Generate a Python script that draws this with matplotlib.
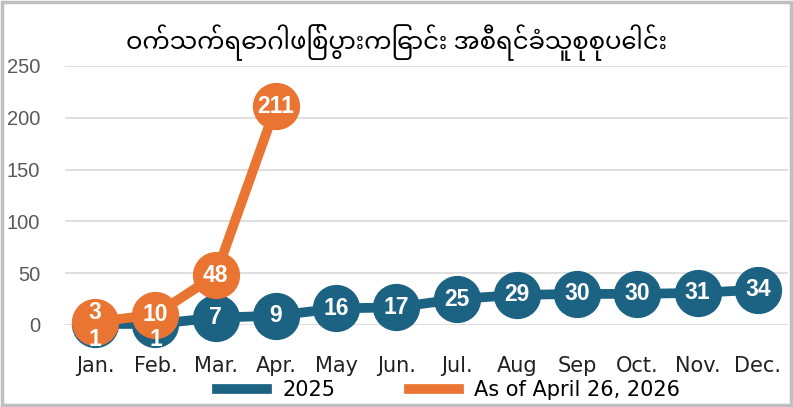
import matplotlib
matplotlib.use("Agg")
import matplotlib.pyplot as plt
from matplotlib.patches import Rectangle

months = ["Jan.", "Feb.", "Mar.", "Apr.", "May", "Jun.", "Jul.", "Aug",
          "Sep", "Oct.", "Nov.", "Dec."]
cases_2025 = [1, 1, 7, 9, 16, 17, 25, 29, 30, 30, 31, 34]
cases_2026 = [3, 10, 48, 211]
title = "ဝက်သက်ရောဂါဖြစ်ပွားကြောင်း အစီရင်ခံသူစုစုပေါင်း"

BLUE = "#1b6283"
ORANGE = "#ea7431"

fig = plt.figure(figsize=(7.93, 4.07), dpi=100)
ax = fig.add_axes([0.082, 0.2015, 0.9117, 0.6365])

x25 = list(range(len(cases_2025)))
x26 = list(range(len(cases_2026)))

ax.plot(x25, cases_2025, "-o", color=BLUE, lw=7, markersize=33,
        clip_on=False, zorder=3, label="2025")
ax.plot(x26, cases_2026, "-o", color=ORANGE, lw=7, markersize=33,
        clip_on=False, zorder=4, label="As of April 26, 2026")

# label nudges (points) where the two series overlap
off25 = [-11, -11] + [0] * 10
off26 = [7, 0, 0, 0]
lbl = dict(ha="center", va="center", color="white", fontsize=16.5,
           fontweight="bold", family="Liberation Sans", zorder=6)
for x, v, dy in zip(x25, cases_2025, off25):
    ax.annotate(str(v), (x, v), xytext=(0, dy), textcoords="offset points", **lbl)
for x, v, dy in zip(x26, cases_2026, off26):
    ax.annotate(str(v), (x, v), xytext=(0, dy), textcoords="offset points", **lbl)

ax.set_xlim(-0.5, 11.5)
ax.set_ylim(0, 250)
ax.set_yticks([0, 50, 100, 150, 200, 250])
ax.set_xticks(x25)
ax.set_xticklabels(months, fontsize=15, family="DejaVu Sans", color="#222222")
ax.tick_params(axis="x", length=0, pad=22)
ax.tick_params(axis="y", length=0, pad=18, labelsize=14.5, labelcolor="#595959")
for t in ax.get_yticklabels():
    t.set_family("Liberation Sans")
ax.grid(axis="y", color="#d9d9d9", lw=1.2)
ax.set_axisbelow(True)
for s in ax.spines.values():
    s.set_visible(False)

fig.text(0.5, 0.895, title, ha="center", va="center", fontsize=17.5,
         family=["Noto Sans Myanmar", "Padauk", "Myanmar Text", "DejaVu Sans"])

leg = fig.legend(loc="center", bbox_to_anchor=(0.566, 0.042), ncol=2,
                 frameon=False, fontsize=15, handlelength=2.4,
                 columnspacing=3.5, handletextpad=0.75)
for h in leg.legend_handles:
    h.set_marker("")
    h.set_linewidth(7)

fig.patches.append(Rectangle((0.003, 0.004), 0.994, 0.992, transform=fig.transFigure,
                             fill=False, ec="#bfbfbf", lw=2.5))

fig.savefig("out.png", dpi=100)
